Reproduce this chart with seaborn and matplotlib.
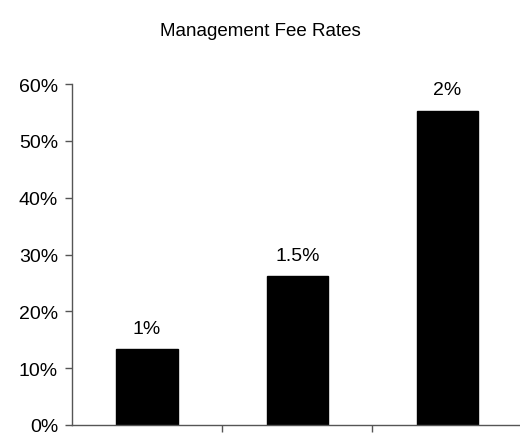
import matplotlib
matplotlib.use("Agg")
import matplotlib.pyplot as plt
import seaborn as sns
import pandas as pd
from matplotlib.ticker import PercentFormatter, FixedLocator, NullFormatter

categories = ["1%", "1.5%", "2%"]
shares = [13.3, 26.2, 55.3]
yticks = [0, 10, 20, 30, 40, 50, 60]

sns.set_theme(style="white")
plt.rcParams['font.family'] = ['Liberation Sans', 'DejaVu Sans']

df = pd.DataFrame({"rate": categories, "share": shares})

fig = plt.figure(figsize=(5.2, 4.35), dpi=100)
ax = fig.add_axes([72/520, 1 - 426/435, (520 - 72)/520 + 0.005, (426 - 85)/435])

sns.barplot(data=df, x="rate", y="share", color="black", width=0.41,
            saturation=1, ax=ax)
for p in ax.patches:
    p.set_edgecolor("black")

ax.set_ylim(0, 60)
ax.set_xlim(-0.5, 2.5)
ax.set_yticks(yticks)
ax.yaxis.set_major_formatter(PercentFormatter(decimals=0))
ax.set_xlabel("")
ax.set_ylabel("")
ax.xaxis.set_major_locator(FixedLocator([0.5, 1.5]))
ax.xaxis.set_major_formatter(NullFormatter())

for s in ["top", "right"]:
    ax.spines[s].set_visible(False)
for s in ["left", "bottom"]:
    ax.spines[s].set_color("#555555")
    ax.spines[s].set_linewidth(1.0)

ax.tick_params(axis="y", which="major", left=True, length=5, width=1,
               color="#555555", labelsize=14, pad=5, labelcolor="black")
ax.tick_params(axis="x", which="major", bottom=True, length=5, width=1,
               color="#555555")

for i, (c, v) in enumerate(zip(categories, shares)):
    ax.annotate(c, xy=(i, v), xytext=(0, 15), textcoords="offset points",
                ha="center", va="center", fontsize=14, color="black")

fig.text(0.5, 1 - 31/435, "Management Fee Rates", ha="center", va="center",
         fontsize=13.5, color="black")

fig.savefig("out.png", dpi=100)
